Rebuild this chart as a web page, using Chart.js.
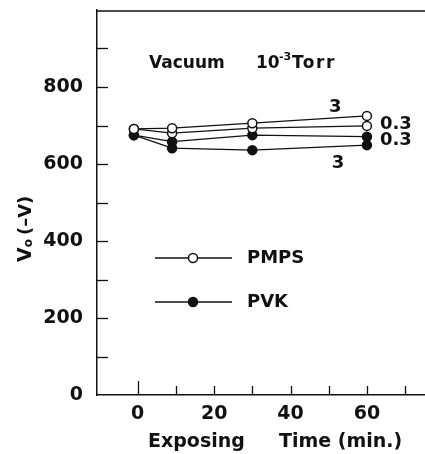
<!DOCTYPE html>
<html>
<head>
<meta charset="utf-8">
<script src="https://cdn.jsdelivr.net/npm/chart.js@4.4.1/dist/chart.umd.min.js"></script>
<style>
  html, body { margin: 0; padding: 0; background: #fff; }
  #voChart { display: block; }
</style>
</head>
<body>
<canvas id="voChart" width="425" height="454"></canvas>
<script>
// exposing time (min.), plotted slightly left of the nominal 0 / 10 marks
const times = [-1, 9, 30, 60];

// surface potential Vo (-V)
const pmps3 = [691, 693, 706, 725];
const pmps03 = [691, 680, 693, 699];
const pvk03 = [675, 658, 675, 671];
const pvk3 = [675, 641, 636, 649];

const yTicks = [0, 100, 200, 300, 400, 500, 600, 700, 800, 900];
const yLabels = [0, 200, 400, 600, 800];
const xTicks = [0, 10, 20, 30, 40, 50, 60, 70];
const xLabels = [0, 20, 40, 60];

// curve labels, placed in data coordinates
const curveLabels = [
    { text: '3', x: 51.7, y: 748, align: 'center' },
    { text: '0.3', x: 63.4, y: 702, align: 'left' },
    { text: '0.3', x: 63.4, y: 662, align: 'left' },
    { text: '3', x: 52.4, y: 603, align: 'center' }
];

const FONT = 'DejaVu Sans';
const INK = '#111';

function series(values, fill) {
    return {
        data: times.map((t, i) => ({ x: t, y: values[i] })),
        borderColor: INK,
        borderWidth: 1.3,
        tension: 0,
        pointRadius: 4.5,
        pointHoverRadius: 4.5,
        pointBorderWidth: 1.5,
        pointBorderColor: INK,
        pointBackgroundColor: fill
    };
}

function circle(ctx, x, y, r, fill) {
    ctx.beginPath();
    ctx.arc(x, y, r, 0, Math.PI * 2);
    ctx.fillStyle = fill;
    ctx.fill();
    ctx.lineWidth = 1.5;
    ctx.strokeStyle = INK;
    ctx.stroke();
}

const decorations = {
    id: 'decorations',
    afterDraw(chart) {
        const ctx = chart.ctx;
        const area = chart.chartArea;
        const xs = chart.scales.x;
        const ys = chart.scales.y;
        ctx.save();
        ctx.strokeStyle = INK;
        ctx.fillStyle = INK;

        // top frame line
        ctx.lineWidth = 1.3;
        ctx.beginPath();
        ctx.moveTo(area.left, area.top + 1);
        ctx.lineTo(area.right, area.top + 1);
        ctx.stroke();

        // inward tick marks
        ctx.lineWidth = 1.3;
        yTicks.forEach(v => {
            if (v === 0) return;
            const y = Math.round(ys.getPixelForValue(v)) + 0.5;
            ctx.beginPath();
            ctx.moveTo(area.left, y);
            ctx.lineTo(area.left + 11, y);
            ctx.stroke();
        });
        xTicks.forEach(v => {
            const x = Math.round(xs.getPixelForValue(v)) + 0.5;
            const len = v === 0 ? 14 : 9;
            ctx.beginPath();
            ctx.moveTo(x, area.bottom);
            ctx.lineTo(x, area.bottom - len);
            ctx.stroke();
        });

        // title
        ctx.textBaseline = 'middle';
        ctx.textAlign = 'left';
        ctx.font = 'bold 17px "' + FONT + '"';
        ctx.fillText('Vacuum', area.left + 52, 64);
        ctx.fillText('10', area.left + 159, 64);
        ctx.font = 'bold 11px "' + FONT + '"';
        ctx.fillText('-3', area.left + 182, 57);
        ctx.font = 'bold 17px "' + FONT + '"';
        ctx.letterSpacing = '1.5px';
        ctx.fillText('Torr', area.left + 195, 64);
        ctx.letterSpacing = '0px';

        // curve labels
        ctx.font = 'bold 18px "' + FONT + '"';
        curveLabels.forEach(l => {
            ctx.textAlign = l.align;
            ctx.fillText(l.text, xs.getPixelForValue(l.x), ys.getPixelForValue(l.y));
        });

        // legend
        const legend = [
            { label: 'PMPS', fill: '#fff', y: 258 },
            { label: 'PVK', fill: INK, y: 302 }
        ];
        ctx.textAlign = 'left';
        legend.forEach(item => {
            ctx.lineWidth = 1.3;
            ctx.beginPath();
            ctx.moveTo(area.left + 58, item.y);
            ctx.lineTo(area.left + 135, item.y);
            ctx.stroke();
            circle(ctx, area.left + 96, item.y, 4.5, item.fill);
            ctx.fillStyle = INK;
            ctx.font = 'bold 18px "' + FONT + '"';
            ctx.fillText(item.label, area.left + 150, item.y);
        });

        // x axis title
        ctx.font = 'bold 19px "' + FONT + '"';
        ctx.fillText('Exposing', 148, 442);
        ctx.fillText('Time (min.)', 279, 442);

        // y axis title, rotated: V with subscript o, then (-V)
        ctx.translate(26, 262);
        ctx.rotate(-Math.PI / 2);
        ctx.textAlign = 'left';
        ctx.font = 'bold 19px "' + FONT + '"';
        ctx.fillText('V', 0, 0);
        let w = ctx.measureText('V').width;
        ctx.font = 'bold 12px "' + FONT + '"';
        ctx.fillText('o', w, 3);
        w += ctx.measureText('o').width + 4;
        ctx.font = 'bold 18px "' + FONT + '"';
        ctx.fillText('(\u2013V)', w, 0);
        ctx.restore();
    }
};

new Chart(document.getElementById('voChart').getContext('2d'), {
    type: 'line',
    data: {
        datasets: [
            series(pmps3, '#fff'),
            series(pmps03, '#fff'),
            series(pvk03, INK),
            series(pvk3, INK)
        ]
    },
    options: {
        responsive: false,
        animation: false,
        devicePixelRatio: 1,
        layout: { autoPadding: false, padding: { top: 10, right: 0, left: 0, bottom: 0 } },
        plugins: {
            legend: { display: false },
            tooltip: { enabled: false }
        },
        scales: {
            x: {
                type: 'linear',
                min: -10.66,
                max: 75.2,
                afterBuildTicks: scale => { scale.ticks = xTicks.map(v => ({ value: v })); },
                afterFit: scale => { scale.height = 59; scale.paddingLeft = 0; scale.paddingRight = 0; },
                grid: { display: false, drawTicks: false },
                border: { display: true, color: INK, width: 1.5 },
                ticks: {
                    autoSkip: false,
                    maxRotation: 0,
                    padding: 10,
                    color: INK,
                    font: { family: FONT, weight: 'bold', size: 19, lineHeight: 1 },
                    callback: v => xLabels.includes(v) ? String(v) : ''
                }
            },
            y: {
                min: 0,
                max: 1000,
                afterBuildTicks: scale => { scale.ticks = yTicks.map(v => ({ value: v })); },
                afterFit: scale => { scale.width = 97; scale.paddingTop = 0; scale.paddingBottom = 0; },
                grid: { display: false, drawTicks: false },
                border: { display: true, color: INK, width: 1.5 },
                ticks: {
                    autoSkip: false,
                    padding: 14,
                    color: INK,
                    font: { family: FONT, weight: 'bold', size: 19, lineHeight: 1 },
                    callback: v => yLabels.includes(v) ? String(v) : ''
                }
            }
        }
    },
    plugins: [decorations]
});
</script>
</body>
</html>
